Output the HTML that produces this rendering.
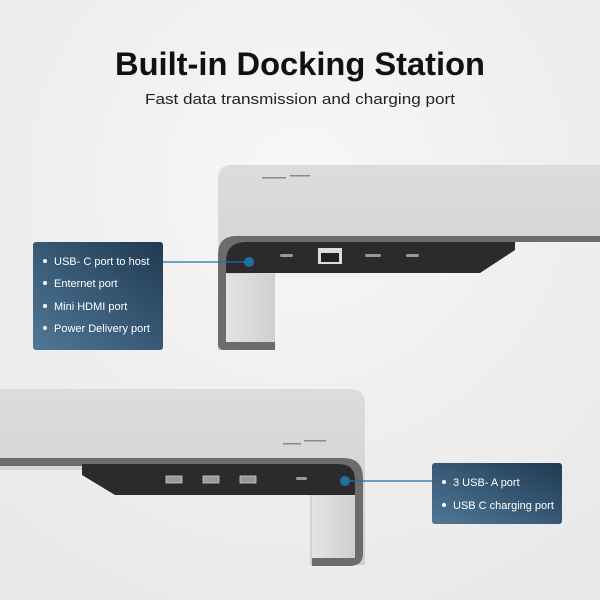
<!DOCTYPE html>
<html><head><meta charset="utf-8"><style>
html,body{margin:0;padding:0;width:600px;height:600px;overflow:hidden;background:#efefef}
svg{display:block}
text{font-family:"Liberation Sans",sans-serif}
</style></head><body>
<svg width="600" height="600" viewBox="0 0 600 600" xmlns="http://www.w3.org/2000/svg">
<defs>
<radialGradient id="bg" cx="0.5" cy="0.3" r="0.8"><stop offset="0" stop-color="#f7f7f7"/><stop offset="1" stop-color="#e8e8e8"/></radialGradient>
<linearGradient id="top" x1="0" y1="0" x2="0" y2="1"><stop offset="0" stop-color="#dcdcdc"/><stop offset="1" stop-color="#cfcfd0"/></linearGradient>
<linearGradient id="box" x1="0" y1="1" x2="1" y2="0"><stop offset="0" stop-color="#4f7898"/><stop offset="1" stop-color="#203a52"/></linearGradient>
<linearGradient id="leg" x1="0" y1="0" x2="1" y2="0"><stop offset="0" stop-color="#e4e4e4"/><stop offset="1" stop-color="#cfcfcf"/></linearGradient>
</defs>
<rect width="600" height="600" fill="url(#bg)"/>
<text x="300" y="75" text-anchor="middle" font-size="32" font-weight="bold" fill="#111" textLength="370" lengthAdjust="spacingAndGlyphs">Built-in Docking Station</text>
<text x="300" y="104" text-anchor="middle" font-size="15" fill="#222" textLength="310" lengthAdjust="spacingAndGlyphs">Fast data transmission and charging port</text>

<!-- top stand -->
<path d="M218,350 L218,178 Q218,165 232,165 L600,165 L600,240 L275,240 L275,350 Z" fill="url(#top)"/>
<path d="M218,348 L218,255 Q218,236 236,236 L600,236 L600,242 L262,242 Q226,242 226,262 L226,342 L275,342 L275,350 L224,350 Q218,350 218,344 Z" fill="#6c6c6e"/>
<path d="M226,262 Q226,242 246,242 L515,242 L515,250 L480,273 L226,273 Z" fill="#2b2b2d"/>
<rect x="226" y="274" width="49" height="68" fill="url(#leg)"/>
<rect x="262" y="177" width="24" height="1.5" fill="#8a8a8a"/><rect x="290" y="175" width="20" height="1.5" fill="#8a8a8a"/>
<rect x="280" y="254" width="13" height="3" rx="1.5" fill="#999"/>
<rect x="318" y="248" width="24" height="16" fill="#ddd"/><rect x="321" y="253" width="18" height="9" fill="#222"/>
<rect x="365" y="254" width="16" height="3" rx="1.5" fill="#999"/>
<rect x="406" y="254" width="13" height="3" rx="1.5" fill="#999"/>
<line x1="163" y1="262" x2="249" y2="262" stroke="#1e6fa6" stroke-width="1.2"/>
<circle cx="249" cy="262" r="5" fill="#1e6fa6"/>
<rect x="33" y="242" width="130" height="108" rx="3" fill="url(#box)"/>
<g fill="#fff" font-size="11">
<circle cx="45" cy="261" r="2"/><text x="54" y="265">USB- C port to host</text>
<circle cx="45" cy="283" r="2"/><text x="54" y="287">Enternet port</text>
<circle cx="45" cy="306" r="2"/><text x="54" y="310">Mini HDMI port</text>
<circle cx="45" cy="328" r="2"/><text x="54" y="332">Power Delivery port</text>
</g>

<!-- bottom stand -->
<path d="M0,389 L350,389 Q365,389 365,404 L365,565 L310,565 L310,470 L0,470 Z" fill="url(#top)"/>
<path d="M0,458 L343,458 Q363,458 363,478 L363,553 Q363,566 350,566 L312,566 L312,558 L348,558 Q355,558 355,550 L355,482 Q355,466 340,466 L0,466 Z" fill="#6c6c6e"/>
<path d="M82,464 L338,464 Q355,464 355,480 L355,495 L115,495 L82,475 Z" fill="#2b2b2d"/>
<rect x="312" y="496" width="43" height="62" fill="url(#leg)"/>
<rect x="283" y="443" width="18" height="1.5" fill="#8a8a8a"/><rect x="304" y="440" width="22" height="1.5" fill="#8a8a8a"/>
<g fill="#999" stroke="#ccc" stroke-width="0.8"><rect x="166" y="476" width="16" height="7"/><rect x="203" y="476" width="16" height="7"/><rect x="240" y="476" width="16" height="7"/></g>
<rect x="296" y="477" width="11" height="3" rx="1.5" fill="#999"/>
<line x1="345" y1="481" x2="432" y2="481" stroke="#1e6fa6" stroke-width="1.2"/>
<circle cx="345" cy="481" r="5" fill="#1e6fa6"/>
<rect x="432" y="463" width="130" height="61" rx="3" fill="url(#box)"/>
<g fill="#fff" font-size="11">
<circle cx="444" cy="482" r="2"/><text x="453" y="486">3 USB- A port</text>
<circle cx="444" cy="505" r="2"/><text x="453" y="509">USB C charging port</text>
</g>
</svg>
</body></html>
